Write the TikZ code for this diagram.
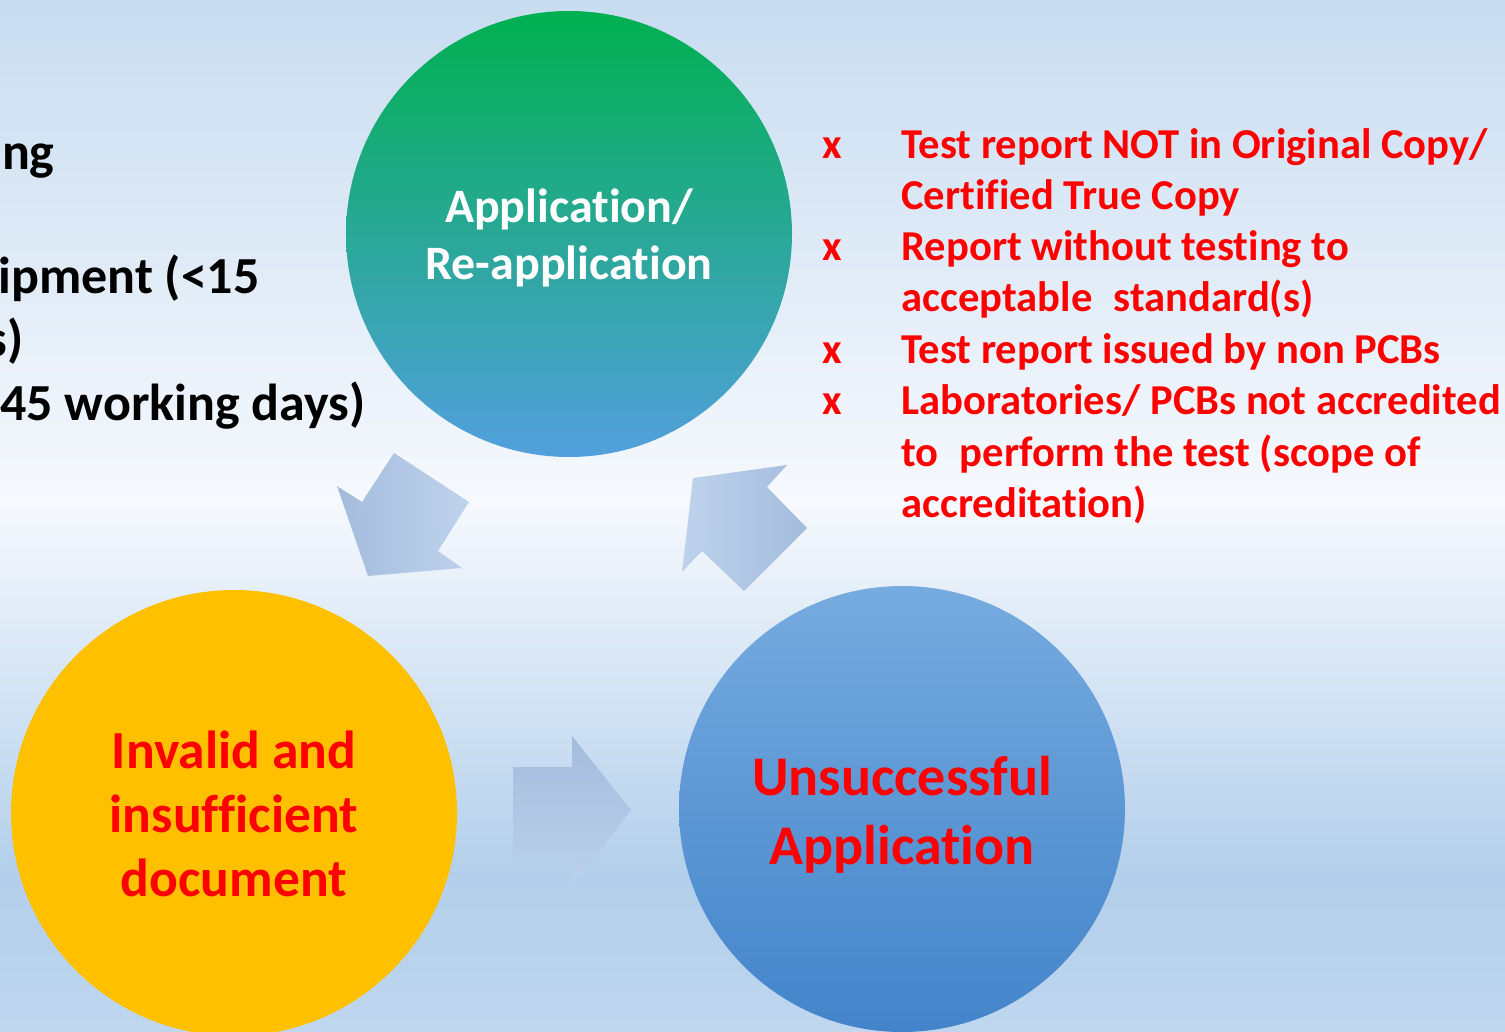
\documentclass[tikz,border=0pt]{standalone}
\usepackage{fontspec}
\setmainfont{Carlito}[Ligatures=NoCommon]
\definecolor{bgtop}{HTML}{C8DCF0}
\definecolor{bgmid}{HTML}{F6F9FD}
\definecolor{bgblue}{HTML}{B3CFEB}
\definecolor{bgbot}{HTML}{BFD6EE}
\definecolor{cgreen}{HTML}{00B050}
\definecolor{cteal}{HTML}{52A0DD}
\definecolor{bltop}{HTML}{76ABDF}
\definecolor{blbot}{HTML}{4384CA}
\definecolor{cyellow}{HTML}{FFC000}
\definecolor{arrdark}{HTML}{A0B9DB}
\definecolor{arrlight}{HTML}{BDD1EC}
\definecolor{cred}{HTML}{FF0000}
\tikzset{
  circ/.style={circle, minimum size=223pt, inner sep=0pt},
  ctext/.style={align=center, inner sep=0pt},
  redline/.style={anchor=base west, text=cred, font=\bfseries\fontsize{21.3}{25}\selectfont, inner sep=0pt},
  xmark/.style={anchor=base, text=cred, font=\bfseries\fontsize{21.3}{25}\selectfont, inner sep=0pt},
  blackline/.style={anchor=base east, text=black, font=\bfseries\fontsize{26}{30}\selectfont, inner sep=0pt},
}
\begin{document}
\begin{tikzpicture}[x=0.5pt,y=-0.5pt]
\useasboundingbox (0,0) rectangle (1505,1032);
\clip (0,0) rectangle (1505,1032);
% background
\shade[top color=bgtop, bottom color=bgmid] (0,0) rectangle (1505,501);
\shade[top color=bgmid, bottom color=bgblue] (0,500) rectangle (1505,876);
\shade[top color=bgblue, bottom color=bgbot] (0,875) rectangle (1505,1032);

% left clipped text
\node[blackline] (t1) at (55,170) {ng};
\node[blackline] (t2) at (260,294) {ipment (<15};
\node[blackline] (t3) at (24,357) {s)};
\node[blackline] (t4) at (366,420) {45 working days)};

% circles
\node[circ, top color=cgreen, bottom color=cteal] (app) at (569,234) {};
\node[circ, fill=cyellow] (inv) at (234,813) {};
\node[circ, top color=bltop, bottom color=blbot] (uns) at (902,809) {};

\node[ctext, text=white, font=\bfseries\fontsize{24}{28.5}\selectfont]
  (apptext) at ([yshift=-2pt]app.center) {Application/\\Re-application};
\node[ctext, text=cred, font=\bfseries\fontsize{26.8}{32}\selectfont]
  (invtext) at ([yshift=-0.5pt]inv.center) {Invalid and\\insufficient\\document};
\node[ctext, text=cred, font=\bfseries\fontsize{28}{34.3}\selectfont]
  (unstext) at ([yshift=-3pt]uns.center) {Unsuccessful\\Application};

% block arrows
\shade[left color=arrdark, right color=arrlight, opacity=0.95]
  (394,453) -- (469,502) -- (438,551) -- (462,568) -- (368,576) -- (337,486) -- (362,502) -- cycle;
\shade[left color=arrlight, right color=arrdark, opacity=0.95]
  (693,478) -- (787,465) -- (767,487) -- (807,528) -- (744,591) -- (702,551) -- (682,572) -- cycle;
\shade[top color=arrdark, bottom color=arrlight, opacity=0.9]
  (513,767) -- (572,767) -- (572,736) -- (631,810) -- (573,885) -- (573,857) -- (513,857) -- cycle;

% red list
\node[xmark] (x1) at (832,159) {x};
\node[redline] (l1) at (901,159) {Test report NOT in Original Copy/};
\node[redline] (l2) at (901,210) {Certified True Copy};
\node[xmark] (x2) at (832,261) {x};
\node[redline] (l3) at (901,261) {Report without testing to};
\node[redline] (l4) at (901,312) {acceptable\hspace{0.5em}standard(s)};
\node[xmark] (x3) at (832,364) {x};
\node[redline] (l5) at (901,364) {Test report issued by non PCBs};
\node[xmark] (x4) at (832,415) {x};
\node[redline] (l6) at (901,415) {Laboratories/ PCBs not accredited};
\node[redline] (l7) at (901,466) {to\hspace{0.5em}perform the test (scope of};
\node[redline] (l8) at (901,517) {accreditation)};
\end{tikzpicture}
\end{document}
